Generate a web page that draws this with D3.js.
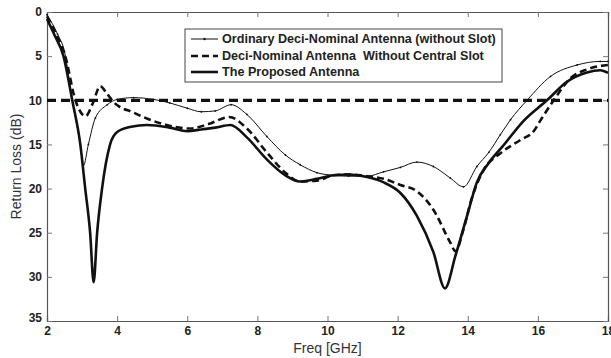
<!DOCTYPE html>
<html>
	<head>
		<meta charset="utf-8" />
		<title>Return Loss</title>
		<script src="https://cdn.jsdelivr.net/npm/d3@7"></script>
		<style>
			body {
				margin: 0;
				background: #fff;
			}
			svg {
				font-family: 'Liberation Sans', Arial, sans-serif;
			}
			.tick-label {
				font-size: 12px;
				font-weight: bold;
				fill: #222;
			}
			.axis-title {
				font-size: 14px;
				fill: #333;
			}
			.legend-text {
				font-size: 12.6px;
				font-weight: bold;
				fill: #222;
			}
		</style>
	</head>
	<body>
		<svg id="chart"></svg>
		<script>
			// values (GHz, dB)
			const ordinaryFreq = [2, 2.3, 2.5, 2.72, 2.95, 3.04, 3.18, 3.38, 3.72, 4.0, 4.47, 5.04, 5.5, 6.0, 6.4, 6.8, 7.25, 7.7, 8.27, 8.8, 9.22, 9.7, 10.17, 10.6, 11.13, 11.6, 12.08, 12.55, 13.02, 13.5, 13.88, 14.26, 14.6, 14.93, 15.22, 15.69, 16.36, 17.12, 17.78, 18];
			const ordinaryLoss = [0.3, 2.5, 4.5, 10, 15, 17.4, 15, 12, 10.5, 9.9, 9.7, 9.9, 10.3, 10.9, 11.3, 11.2, 10.5, 11.6, 14.1, 16.2, 17.3, 18.2, 18.5, 18.6, 18.6, 18.1, 17.6, 17.0, 17.5, 18.8, 19.8, 17.5, 15.9, 13.9, 12.2, 10, 7.3, 6.0, 5.6, 5.6];

			const noSlotFreq = [2, 2.3, 2.52, 2.81, 3.1, 3.3, 3.52, 3.7, 3.9, 4.47, 5.23, 6.09, 6.6, 7.2, 7.7, 8.27, 8.8, 9.22, 9.7, 10.17, 10.6, 11.13, 11.6, 12.08, 12.55, 13.02, 13.5, 13.65, 13.88, 14.1, 14.45, 14.93, 15.5, 15.88, 16.07, 16.45, 16.93, 17.4, 18];
			const noSlotLoss = [0.5, 2.8, 5, 10, 11.8, 10.4, 8.4, 9.2, 10.2, 11.4, 12.6, 13.2, 12.7, 11.9, 13.2, 15.9, 18.2, 19.2, 19.1, 18.5, 18.4, 18.6, 18.9, 19.6, 20.3, 22.4, 26.1, 27.1, 24.6, 21.3, 17.9, 16, 14.5, 13.5, 12.3, 10, 7.5, 6.5, 6.0];

			const proposedFreq = [2, 2.2, 2.47, 2.72, 2.95, 3.09, 3.23, 3.33, 3.43, 3.57, 3.8, 4.0, 4.4, 4.85, 5.5, 6.0, 6.4, 6.8, 7.23, 7.7, 8.27, 8.8, 9.22, 9.7, 10.17, 10.6, 11.13, 11.6, 12.08, 12.55, 13.02, 13.35, 13.65, 13.98, 14.26, 14.6, 15.0, 15.6, 16.26, 16.83, 17.4, 17.78, 18];
			const proposedLoss = [0.8, 2.5, 5, 10, 15, 20, 25, 30.6, 25, 20, 15, 13.6, 13.0, 12.8, 13.1, 13.5, 13.3, 13.1, 12.8, 14.2, 16.7, 18.5, 19.2, 18.9, 18.5, 18.4, 18.7, 19.3, 20.5, 23.1, 27.2, 31.3, 27.6, 23.1, 19.3, 17.1, 15.2, 12.3, 10, 7.9, 6.85, 6.6, 6.9];

			const seriesNames = [
				'Ordinary Deci-Nominal Antenna (without Slot)',
				'Deci-Nominal Antenna  Without Central Slot',
				'The Proposed Antenna',
			];
			const xTicks = [2, 4, 6, 8, 10, 12, 14, 16, 18];
			const yTicks = [0, 5, 10, 15, 20, 25, 30, 35];
			const thresholdDb = 10;

			const width = 611;
			const height = 358;
			const margin = { top: 12, right: 3, bottom: 37, left: 47 };

			const svg = d3
				.select('#chart')
				.attr('width', width)
				.attr('height', height);

			const x = d3
				.scaleLinear()
				.domain([2, 18])
				.range([margin.left, width - margin.right]);
			const y = d3
				.scaleLinear()
				.domain([0, 35])
				.range([margin.top, height - margin.bottom]);

			const series = [
				{ name: seriesNames[0], freq: ordinaryFreq, loss: ordinaryLoss, width: 1, dash: null, dots: true },
				{ name: seriesNames[1], freq: noSlotFreq, loss: noSlotLoss, width: 2.6, dash: '7,4', dots: false },
				{ name: seriesNames[2], freq: proposedFreq, loss: proposedLoss, width: 2.6, dash: null, dots: false },
			];

			// axes, ticks pointing inward on all four sides
			const axisColor = '#555';
			const axisBottomG = svg
				.append('g')
				.attr('transform', `translate(0,${y(35)})`)
				.call(d3.axisBottom(x).tickValues(xTicks).tickSize(-5).tickPadding(5));
			const axisTopG = svg
				.append('g')
				.attr('transform', `translate(0,${y(0)})`)
				.call(d3.axisTop(x).tickValues(xTicks).tickSize(-5).tickFormat(''));
			const axisLeftG = svg
				.append('g')
				.attr('transform', `translate(${x(2)},0)`)
				.call(d3.axisLeft(y).tickValues(yTicks).tickSize(-5).tickPadding(5));
			const axisRightG = svg
				.append('g')
				.attr('transform', `translate(${x(18)},0)`)
				.call(d3.axisRight(y).tickValues(yTicks).tickSize(-5).tickFormat(''));

			[axisBottomG, axisTopG, axisLeftG, axisRightG].forEach((g) => {
				g.select('.domain').attr('stroke', axisColor).attr('stroke-width', 1.2);
				g.selectAll('.tick line').attr('stroke', '#777');
				g.selectAll('.tick text')
					.attr('class', 'tick-label')
					.attr('font-family', null)
					.attr('font-size', null);
			});
			// the last y label is nudged up like the original
			axisLeftG.selectAll('.tick text').attr('dy', (d) => (d === 35 ? '0.05em' : '0.32em'));

			// 10 dB threshold
			svg.append('line')
				.attr('x1', x(2))
				.attr('x2', x(18))
				.attr('y1', y(thresholdDb))
				.attr('y2', y(thresholdDb))
				.attr('stroke', '#111')
				.attr('stroke-width', 3.2)
				.attr('stroke-dasharray', '9,5');

			const line = d3
				.line()
				.x((d) => x(d[0]))
				.y((d) => y(d[1]))
				.curve(d3.curveMonotoneX);

			series.forEach((s) => {
				const pts = s.freq.map((f, i) => [f, s.loss[i]]);
				svg.append('path')
					.datum(pts)
					.attr('d', line)
					.attr('fill', 'none')
					.attr('stroke', '#111')
					.attr('stroke-width', s.width)
					.attr('stroke-linejoin', 'round')
					.attr('stroke-dasharray', s.dash);
				if (s.dots) {
					svg.append('g')
						.selectAll('circle')
						.data(pts)
						.join('circle')
						.attr('cx', (d) => x(d[0]))
						.attr('cy', (d) => y(d[1]))
						.attr('r', 0.9)
						.attr('fill', '#111');
				}
			});

			// legend
			const legend = svg.append('g').attr('transform', 'translate(185,29)');
			legend.append('rect')
				.attr('width', 317)
				.attr('height', 53)
				.attr('fill', '#fff')
				.attr('stroke', '#444')
				.attr('stroke-width', 1);
			const rowY = [10, 27, 43];
			series.forEach((s, i) => {
				legend.append('line')
					.attr('x1', 6)
					.attr('x2', 33)
					.attr('y1', rowY[i])
					.attr('y2', rowY[i])
					.attr('stroke', '#111')
					.attr('stroke-width', s.width)
					.attr('stroke-dasharray', s.dash);
				if (s.dots) {
					legend.append('circle')
						.attr('cx', 19.5)
						.attr('cy', rowY[i])
						.attr('r', 1.2)
						.attr('fill', '#111');
				}
				legend.append('text')
					.attr('class', 'legend-text')
					.attr('x', 37)
					.attr('y', rowY[i])
					.attr('dy', '0.35em')
					.style('white-space', 'pre')
					.text(s.name);
			});

			// axis titles
			svg.append('text')
				.attr('class', 'axis-title')
				.attr('transform', `translate(21,${(y(0) + y(35)) / 2}) rotate(-90)`)
				.attr('text-anchor', 'middle')
				.text('Return Loss (dB)');
			svg.append('text')
				.attr('class', 'axis-title')
				.attr('x', (x(2) + x(18)) / 2)
				.attr('y', 353)
				.attr('text-anchor', 'middle')
				.text('Freq [GHz]');
		</script>
	</body>
</html>
